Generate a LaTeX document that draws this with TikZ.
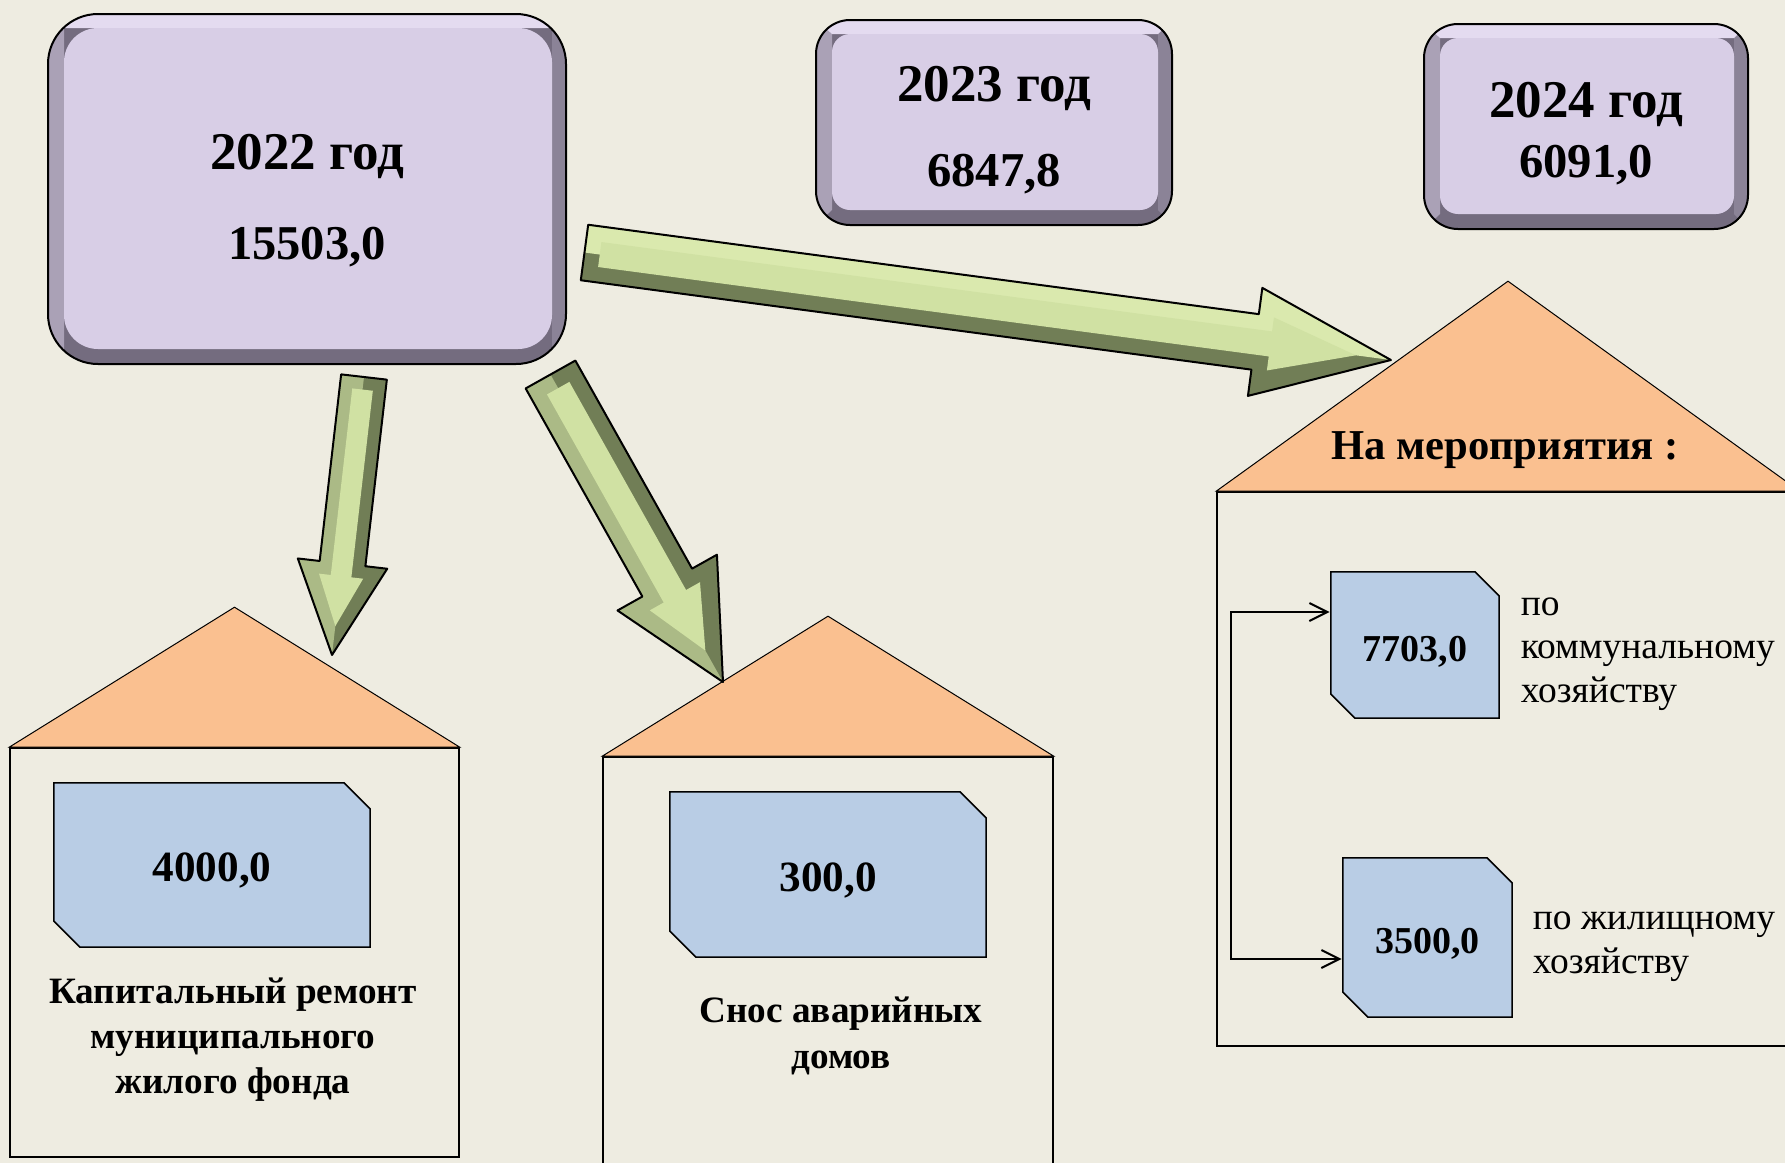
\documentclass[tikz,border=0pt]{standalone}
\usepackage{fontspec}
\setmainfont{Liberation Serif}
\usetikzlibrary{positioning,calc,arrows.meta}

\definecolor{canvas}{HTML}{EEECE1}
\definecolor{face}{HTML}{D8CEE6}
\definecolor{bevtop}{HTML}{E4DBF0}
\definecolor{bevleft}{HTML}{AAA1B6}
\definecolor{bevright}{HTML}{8B8397}
\definecolor{bevdark}{HTML}{746C7F}
\definecolor{boxblue}{HTML}{B9CDE5}
\definecolor{roofcol}{HTML}{FAC090}
\definecolor{arlight}{HTML}{D0E1A3}
\definecolor{artop}{HTML}{DAE9AE}
\definecolor{armid}{HTML}{ABBA86}
\definecolor{ardark}{HTML}{717E56}

% fat green arrow: from, to, shaft half, head half, head length (pt), lit side (1/-1), lit colour
\newcommand\greenarrow[7]{%
  \path let \p1=($(#2)-(#1)$) in
    \pgfextra{\pgfmathparse{atan2(\y1,\x1)}\xdef\garang{\pgfmathresult}%
      \pgfmathparse{veclen(\x1,\y1)}\xdef\garlen{\pgfmathresult}};
  \begin{scope}[shift={(#1)}, rotate=\garang, x=1pt, y=1pt, line join=round]
    \pgfmathsetmacro\gk{\garlen-#5}
    \pgfmathsetmacro\gb{0.55*#3}
    \fill[ardark] (0,#3) -- (\gk,#3) -- (\gk,#4) -- (\garlen,0) -- (\gk,-#4) -- (\gk,-#3) -- (0,-#3) -- cycle;
    \fill[#7] (0,0) -- (0,#6*#3) -- (\gk,#6*#3) -- (\gk,#6*#4) -- (\garlen,0) -- cycle;
    \fill[arlight] (\gb,#3-\gb) -- (\gk+\gb,#3-\gb) -- (\gk+\gb,#4-1.8*\gb) -- (\garlen-2.3*\gb,0)
      -- (\gk+\gb,-#4+1.8*\gb) -- (\gk+\gb,-#3+\gb) -- (\gb,-#3+\gb) -- cycle;
    \draw[line width=1pt] (0,#3) -- (\gk,#3) -- (\gk,#4) -- (\garlen,0) -- (\gk,-#4) -- (\gk,-#3) -- (0,-#3) -- cycle;
  \end{scope}}

\tikzset{
  yearbox/.style={rectangle, rounded corners=#1, draw=black, line width=1pt,
    fill=bevdark, inner sep=0pt,
    path picture={
      \coordinate (o1) at (path picture bounding box.north west);
      \coordinate (o2) at (path picture bounding box.north east);
      \coordinate (o3) at (path picture bounding box.south east);
      \coordinate (o4) at (path picture bounding box.south west);
      \coordinate (i1) at ([shift={(8pt,-7pt)}]o1);
      \coordinate (i2) at ([shift={(-7pt,-7pt)}]o2);
      \coordinate (i3) at ([shift={(-7pt,7.5pt)}]o3);
      \coordinate (i4) at ([shift={(8pt,7.5pt)}]o4);
      \fill[bevright, sharp corners] (o2) -- (o3) -- (i3) -- (i2) -- cycle;
      \fill[bevleft, sharp corners] (o1) -- (i1) -- (i4) -- (o4) -- cycle;
      \fill[bevtop, sharp corners] (o1) -- (o2) -- (i2) -- (i1) -- cycle;
      \fill[face, rounded corners=#1-8pt] (i1) rectangle (i3);
    }},
  yeartext/.style={align=center, inner sep=0pt, font=\bfseries\fontsize{24.3}{30}\selectfont},
  chambox/.style={rectangle, inner sep=0pt,
    path picture={\draw[fill=boxblue, line width=0.75pt]
      ([shift={(0.4pt,-0.4pt)}]path picture bounding box.north west)
      -- ([shift={(-#1,-0.4pt)}]path picture bounding box.north east)
      -- ([shift={(-0.4pt,-#1)}]path picture bounding box.north east)
      -- ([shift={(-0.4pt,0.4pt)}]path picture bounding box.south east)
      -- ([shift={(#1,0.4pt)}]path picture bounding box.south west)
      -- ([shift={(0.4pt,#1)}]path picture bounding box.south west)
      -- cycle;}},
  housebody/.style={rectangle, draw, line width=0.8pt, inner sep=0pt},
  roofpart/.style={fill=roofcol, draw, line width=0.5pt},
  caption/.style={align=center, font=\bfseries\fontsize{18.6}{22.6}\selectfont},
  note/.style={align=left, inner sep=0pt, font=\fontsize{18.75}{21.7}\selectfont},
  >={Straight Barb[length=9pt,width=9pt]}
}

\begin{document}
\begin{tikzpicture}[x=0.5pt, y=-0.5pt]
\useasboundingbox (0,0) rectangle (1785,1163);
\clip (0,0) rectangle (1785,1163);
\fill[canvas] (0,0) rectangle (1785,1163);

% years
\node[yearbox=25pt, minimum width=259pt, minimum height=175pt] (y2022) at (307,189) {};
\node[yearbox=17pt, minimum width=178pt, minimum height=102.5pt] (y2023) at (994,122.5) {};
\node[yearbox=17pt, minimum width=162pt, minimum height=102.5pt] (y2024) at (1586,126.5) {};
\node[yeartext] (t2022) at ([yshift=-5.7pt]y2022) {{\fontsize{26.5}{30}\selectfont 2022 год}\\[15pt]15503,0};
\node[yeartext] (t2023) at ([yshift=-3.7pt]y2023) {{\fontsize{26.5}{30}\selectfont 2023 год}\\[12.5pt]6847,8};
\node[yeartext] (t2024) at ([yshift=-3.7pt]y2024) {{\fontsize{26.5}{30}\selectfont 2024 год}\\6091,0};

% houses
\node[housebody, minimum width=224.5pt, minimum height=204.5pt] (h1) at (234.5,952.5) {};
\node[housebody, minimum width=225pt, minimum height=209pt] (h2) at (828,966) {};
\node[housebody, minimum width=291pt, minimum height=277pt] (h3) at (1508,769) {};
\filldraw[roofpart] (h1.north west) -- ([yshift=70pt]h1.north) -- (h1.north east) -- cycle;
\filldraw[roofpart] (h2.north west) -- ([yshift=70pt]h2.north) -- (h2.north east) -- cycle;
\filldraw[roofpart] (h3.north west) -- ([yshift=105pt]h3.north) -- (h3.north east) -- cycle;

\node[font=\bfseries\fontsize{21.3}{25}\selectfont] (events) at (1505,450.5) {На мероприятия :};

% sums
\node[chambox=13.5pt, minimum width=159pt, minimum height=83pt, text height=20.5pt, text depth=4pt,
  font=\bfseries\fontsize{21.6}{25}\selectfont] (v4000) at (212,865) {4000,0};
\node[chambox=13.5pt, minimum width=159pt, minimum height=83.5pt, text height=20.5pt, text depth=4pt,
  font=\bfseries\fontsize{21.6}{25}\selectfont] (v300) at (828,874.5) {300,0};
\node[chambox=12.5pt, minimum width=85pt, minimum height=74pt, text height=20pt, text depth=4pt,
  font=\bfseries\fontsize{19}{23}\selectfont] (c7703) at (1415,645) {7703,0};
\node[chambox=13pt, minimum width=85.5pt, minimum height=80.5pt, text height=20pt, text depth=4pt,
  font=\bfseries\fontsize{19}{23}\selectfont] (c3500) at (1427.5,937.5) {3500,0};

\node[caption] (repair) at (233,1039.5) {Капитальный ремонт\\муниципального\\жилого фонда};
\node[caption] (demol) at (841,1036) {Снос аварийных\\домов};
\node[note, right=10pt of c7703, yshift=-4.5pt] (n7703) {по\\коммунальному\\хозяйству};
\node[note, right=9.5pt of c3500, yshift=-4.5pt] (n3500) {по жилищному\\хозяйству};

\coordinate (brk) at (1231,800);
\draw[<->, line width=1pt] ([yshift=16.5pt]c7703.west) -| (brk) |- ([yshift=-10.75pt]c3500.west);

% green arrows
\coordinate (g1s) at (364,377);
\coordinate (g1e) at (332,655);
\coordinate (g2s) at (550.5,374.5);
\coordinate (g2e) at (723,682);
\coordinate (g3s) at (584.5,252.5);
\coordinate (g3e) at (1391,360);
\greenarrow{g1s}{g1e}{11.5}{22.5}{46}{-1}{armid}
\greenarrow{g2s}{g2e}{14.25}{28.5}{57}{-1}{armid}
\greenarrow{g3s}{g3e}{14}{27.25}{68.5}{1}{artop}
\end{tikzpicture}
\end{document}
